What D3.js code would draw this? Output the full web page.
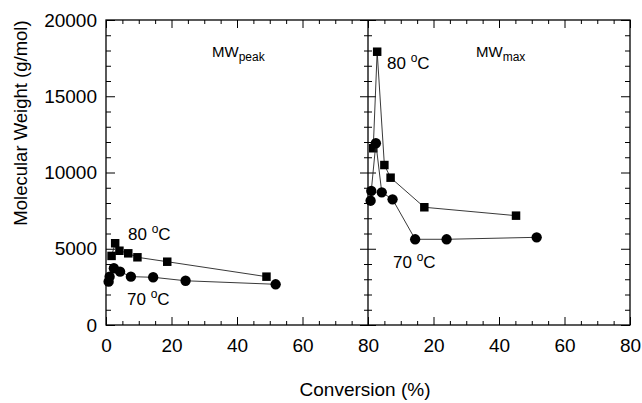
<!DOCTYPE html>
<html lang="en">
<head>
  <meta charset="utf-8" />
  <title>Molecular weight vs conversion</title>
  <style>
    html,body{margin:0;padding:0;background:#fff;}
    svg{display:block;font-family:"Liberation Sans",Arial,sans-serif;}
    .axis path{display:none;}
    .axis line{stroke:#000;stroke-width:1;}
    .axis text{font-size:19px;fill:#000;}
  </style>
</head>
<body>
  <svg id="chart" width="642" height="403"></svg>
  <script src="https://d3js.org/d3.v7.min.js"></script>
  <script>
    // ---- data ----
    const convPeak80 = [1.7, 2.8, 4.1, 6.8, 9.6, 18.7, 49.0];
    const mwPeak80   = [4530, 5360, 4870, 4700, 4440, 4150, 3170];
    const convPeak70 = [0.8, 1.1, 2.4, 4.3, 7.6, 14.4, 24.3, 51.8];
    const mwPeak70   = [2840, 3170, 3720, 3500, 3170, 3130, 2900, 2670];

    const convMax80 = [1.6, 2.8, 5.0, 6.9, 17.2, 45.2];
    const mwMax80   = [11590, 17920, 10490, 9660, 7720, 7170];
    const convMax70 = [0.8, 1.0, 2.4, 4.2, 7.5, 14.4, 24.0, 51.5];
    const mwMax70   = [8150, 8790, 11920, 8700, 8240, 5620, 5620, 5750];

    const xTicks = [0, 20, 40, 60, 80];
    const yTicks = [0, 5000, 10000, 15000, 20000];

    // ---- layout ----
    const L = 106, M = 368, R = 630, T = 20, B = 325;
    const svg = d3.select('#chart');
    const xL = d3.scaleLinear().domain([0, 80]).range([L, M]);
    const xR = d3.scaleLinear().domain([0, 80]).range([M, R]);
    const y  = d3.scaleLinear().domain([0, 20000]).range([B, T]);

    const minorX = d3.range(0, 81, 5).filter(v => v % 20);
    const minorY = d3.range(0, 20001, 1000).filter(v => v % 5000);

    function ticks(axisFn, scale, vals, size, tx, ty, labels){
      const a = axisFn(scale).tickValues(vals).tickSize(size);
      if(labels) a.tickFormat(labels).tickPadding(14); else a.tickFormat('');
      return svg.append('g').attr('class','axis').attr('transform',`translate(${tx},${ty})`).call(a);
    }

    // bottom / top ticks, both panels
    ticks(d3.axisBottom, xL, xTicks, -8, 0, B, d => d);
    ticks(d3.axisBottom, xR, xTicks.filter(v => v > 0), -8, 0, B, d => d);
    ticks(d3.axisBottom, xL, minorX, -4, 0, B);
    ticks(d3.axisBottom, xR, minorX, -4, 0, B);
    ticks(d3.axisTop, xL, xTicks, -8, 0, T);
    ticks(d3.axisTop, xR, xTicks, -8, 0, T);
    ticks(d3.axisTop, xL, minorX, -4, 0, T);
    ticks(d3.axisTop, xR, minorX, -4, 0, T);

    // left axis with labels
    const yl = d3.axisLeft(y).tickValues(yTicks).tickSize(-9).tickPadding(9).tickFormat(d3.format('d'));
    svg.append('g').attr('class','axis').attr('transform',`translate(${L},0)`).call(yl);
    ticks(d3.axisLeft, y, minorY, -5, L, 0);
    // right axis
    ticks(d3.axisRight, y, yTicks, -9, R, 0);
    ticks(d3.axisRight, y, minorY, -5, R, 0);
    // divider ticks, both sides
    ticks(d3.axisLeft, y, yTicks, 8, M, 0);
    ticks(d3.axisRight, y, yTicks, 8, M, 0);
    ticks(d3.axisLeft, y, minorY, 4, M, 0);
    ticks(d3.axisRight, y, minorY, 4, M, 0);

    // frame and divider
    svg.append('rect').attr('x', L).attr('y', T).attr('width', R - L).attr('height', B - T)
      .attr('fill','none').attr('stroke','#000').attr('stroke-width',1.3);
    svg.append('line').attr('x1', M).attr('x2', M).attr('y1', T).attr('y2', B)
      .attr('stroke','#000').attr('stroke-width',1.3);

    // ---- series ----
    function series(xs, ys, xScale, shape){
      const pts = xs.map((v, i) => [xScale(v), y(ys[i])]);
      svg.append('path').attr('d', d3.line()(pts))
        .attr('fill','none').attr('stroke','#222').attr('stroke-width',0.9);
      const sym = d3.symbol().type(shape === 'square' ? d3.symbolSquare : d3.symbolCircle)
        .size(shape === 'square' ? 72 : 84);
      svg.append('g').selectAll('path').data(pts).join('path')
        .attr('transform', d => `translate(${d[0]},${d[1]})`)
        .attr('d', sym).attr('fill','#000');
    }
    series(convPeak80, mwPeak80, xL, 'square');
    series(convPeak70, mwPeak70, xL, 'circle');
    series(convMax80, mwMax80, xR, 'square');
    series(convMax70, mwMax70, xR, 'circle');

    // ---- annotations ----
    function tempLabel(x, yb, num){
      const t = svg.append('text').attr('x', x).attr('y', yb).attr('font-size', 17);
      t.append('tspan').text(num + ' ');
      t.append('tspan').attr('font-size', 12).attr('dy', -7).text('o');
      t.append('tspan').attr('dy', 7).text('C');
    }
    tempLabel(128, 240, '80');
    tempLabel(127, 305, '70');
    tempLabel(387, 69, '80');
    tempLabel(393, 268, '70');

    function mwLabel(x, sub){
      const t = svg.append('text').attr('x', x).attr('y', 57).attr('font-size', 15);
      t.append('tspan').text('MW');
      t.append('tspan').attr('font-size', 12).attr('dy', 4).text(sub);
    }
    mwLabel(212, 'peak');
    mwLabel(476, 'max');

    // axis titles
    svg.append('text').attr('x', 365).attr('y', 396).attr('text-anchor','middle')
      .attr('font-size', 19).text('Conversion (%)');
    svg.append('text').attr('transform','translate(27,123) rotate(-90)').attr('text-anchor','middle')
      .attr('font-size', 18.5).text('Molecular Weight (g/mol)');
  </script>
</body>
</html>
